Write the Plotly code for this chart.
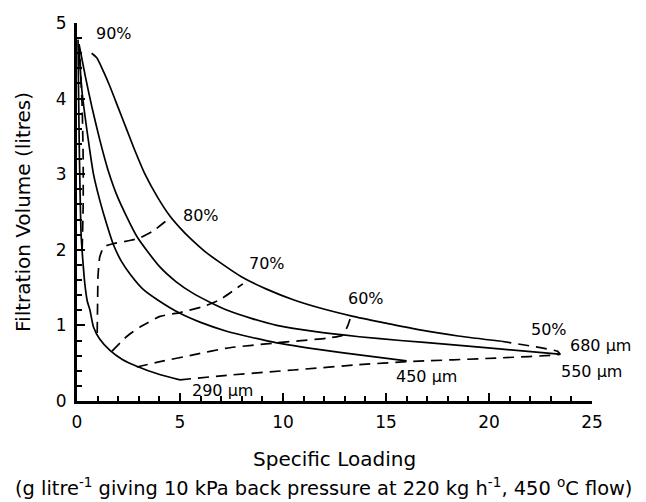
import plotly.graph_objects as go

# Solid curves: fibre diameters (x = specific loading, y = filtration volume)
x_290 = [0.05, 0.08, 0.12, 0.2, 0.28, 0.38, 0.5, 0.63, 0.8, 1.1, 1.6, 2.2, 2.9, 3.9, 5.0]
y_290 = [4.78, 4.0, 3.2, 2.2, 1.87, 1.55, 1.32, 1.2, 0.98, 0.82, 0.67, 0.55, 0.46, 0.36, 0.28]

x_450 = [0.08, 0.24, 0.55, 0.8, 1.1, 1.45, 1.75, 2.15, 2.6, 3.2, 3.9, 5.0, 6.0, 7.3, 8.5, 9.7, 11.8, 13.7, 16.0]
y_450 = [4.72, 4.1, 3.45, 3.0, 2.66, 2.33, 2.08, 1.85, 1.67, 1.48, 1.34, 1.16, 1.04, 0.92, 0.84, 0.77, 0.68, 0.61, 0.53]

x_550 = [0.1, 0.4, 0.73, 1.1, 1.5, 2.0, 2.9, 4.0, 4.8, 5.6, 6.5, 7.3, 8.5, 9.7, 11.5, 13.7, 15.7, 18.0, 20.5, 23.4]
y_550 = [4.72, 4.3, 3.88, 3.46, 3.06, 2.68, 2.18, 1.78, 1.58, 1.43, 1.3, 1.2, 1.09, 1.0, 0.92, 0.85, 0.8, 0.75, 0.69, 0.62]

x_680 = [0.71, 0.96, 1.3, 1.6, 2.0, 2.4, 2.8, 3.3, 3.9, 4.5, 5.0, 5.5, 6.2, 6.9, 8.0, 9.2, 10.5, 11.8, 13.4, 15.0, 16.65, 18.5, 20.6]
y_680 = [4.6, 4.54, 4.35, 4.16, 3.88, 3.6, 3.32, 3.0, 2.7, 2.45, 2.29, 2.15, 1.98, 1.84, 1.64, 1.48, 1.34, 1.23, 1.12, 1.03, 0.94, 0.86, 0.79]

# Dashed curves: equal filtration efficiency
x_90 = [0.25, 0.3, 0.3, 0.25, 0.15, 0.08]
y_90 = [2.0, 2.6, 3.2, 3.9, 4.5, 4.72]

x_80 = [0.98, 1.0, 1.02, 1.1, 1.3, 1.75, 2.5, 3.0, 3.7, 4.5]
y_80 = [0.9, 1.3, 1.65, 1.9, 2.04, 2.08, 2.12, 2.15, 2.25, 2.42]

x_70 = [1.7, 2.4, 3.06, 4.03, 5.0, 6.13, 6.94, 8.05]
y_70 = [0.66, 0.85, 0.98, 1.12, 1.17, 1.25, 1.34, 1.55]

x_60 = [2.9, 4.03, 5.64, 7.27, 9.7, 12.1, 12.9, 13.15, 13.3]
y_60 = [0.45, 0.52, 0.61, 0.70, 0.77, 0.83, 0.87, 1.0, 1.12]

x_50 = [5.0, 7.27, 10.5, 13.7, 16.0, 20.5, 23.45, 23.3, 20.6]
y_50 = [0.28, 0.34, 0.41, 0.48, 0.52, 0.57, 0.62, 0.66, 0.79]

# Labels (data coordinates)
lab_text = ["90%", "80%", "70%", "60%", "50%", "680 μm", "550 μm", "450 μm", "290 μm"]
lab_x = [1.82, 6.03, 9.21, 14.02, 22.92, 25.41, 24.97, 16.97, 7.06]
lab_y = [4.86, 2.46, 1.82, 1.36, 0.95, 0.73, 0.39, 0.33, 0.135]

x_title = "Specific Loading"
x_subtitle = "(g litre<sup>-1</sup> giving 10 kPa back pressure at 220 kg h<sup>-1</sup>, 450 <sup>o</sup>C flow)"
y_title = "Filtration Volume (litres)"

X_RANGE = [0, 25]
Y_RANGE = [0, 5]
FONT = "DejaVu Sans, Arial, sans-serif"

fig = go.Figure()
for xs, ys in [(x_290, y_290), (x_450, y_450), (x_550, y_550), (x_680, y_680)]:
    fig.add_trace(go.Scatter(x=xs, y=ys, mode="lines",
                             line=dict(color="black", width=1.7, shape="spline", smoothing=0.6),
                             showlegend=False, hoverinfo="skip"))
for xs, ys in [(x_90, y_90), (x_80, y_80), (x_70, y_70), (x_60, y_60), (x_50, y_50)]:
    fig.add_trace(go.Scatter(x=xs, y=ys, mode="lines",
                             line=dict(color="black", width=1.7, dash="11px,7px", shape="spline", smoothing=0.4),
                             showlegend=False, hoverinfo="skip"))

# labels placed via paper fractions derived from data coordinates (some lie outside the axis range)
for t, x, y in zip(lab_text, lab_x, lab_y):
    px = (x - X_RANGE[0]) / (X_RANGE[1] - X_RANGE[0])
    py = (y - Y_RANGE[0]) / (Y_RANGE[1] - Y_RANGE[0])
    fig.add_annotation(xref="paper", yref="paper", x=px, y=py, text=t, showarrow=False,
                       xanchor="center", yanchor="middle",
                       font=dict(family=FONT, size=16, color="black"))

fig.add_annotation(xref="paper", yref="paper", x=0.5, y=-0.153, text=x_title, showarrow=False,
                   xanchor="center", yanchor="middle", font=dict(family=FONT, size=20, color="black"))
fig.add_annotation(xref="paper", yref="paper", x=0.478, y=-0.228, text=x_subtitle,
                   showarrow=False, xanchor="center", yanchor="middle", font=dict(family=FONT, size=19.4, color="black"))
fig.add_annotation(xref="paper", yref="paper", x=-0.105, y=0.5, text=y_title, textangle=-90,
                   showarrow=False, xanchor="center", yanchor="middle", font=dict(family=FONT, size=20, color="black"))

axis_common = dict(showgrid=False, zeroline=False, showline=True, linecolor="black", linewidth=2.8,
                   ticks="inside", ticklen=8, tickwidth=2, tickcolor="black",
                   tickfont=dict(family=FONT, size=17, color="black"))
fig.update_xaxes(range=X_RANGE, dtick=5, tick0=0, ticklabelstandoff=4,
                 minor=dict(ticks="inside", ticklen=5, tickwidth=2, tickcolor="black", dtick=1), **axis_common)
fig.update_yaxes(range=Y_RANGE, dtick=1, tick0=0, ticklabelstandoff=4,
                 minor=dict(ticks="inside", ticklen=5, tickwidth=2, tickcolor="black", dtick=0.2),
                 **axis_common)

fig.update_layout(width=646, height=502, margin=dict(l=77, r=54, t=23, b=101),
                  paper_bgcolor="white", plot_bgcolor="white", font=dict(family=FONT, size=16, color="black"))

fig.write_html("out.html")
